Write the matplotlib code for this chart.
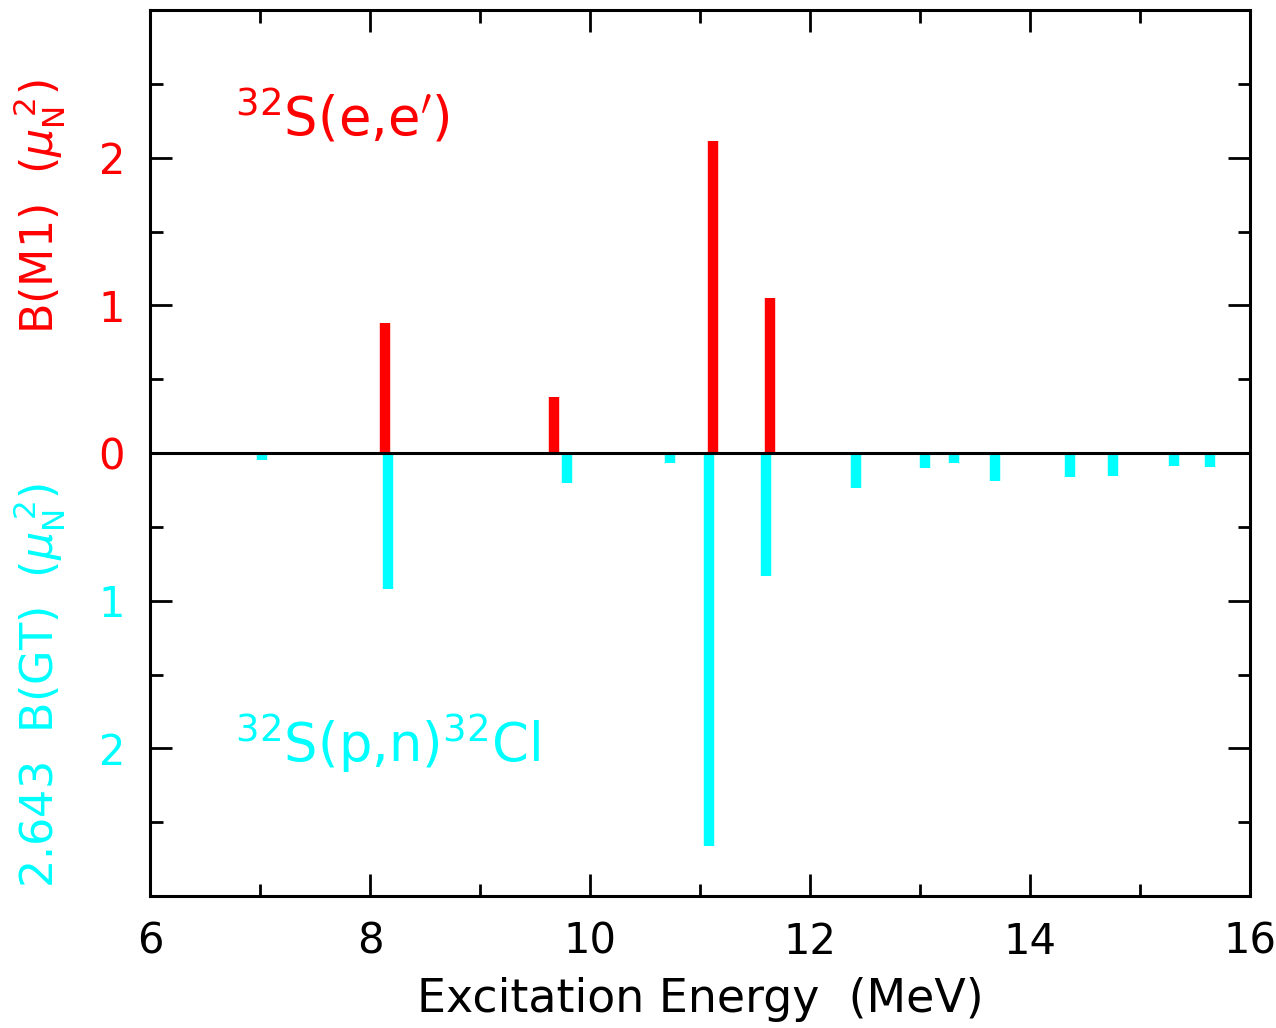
import matplotlib
matplotlib.use("Agg")
import matplotlib.pyplot as plt
from matplotlib.ticker import MultipleLocator, FuncFormatter

# 32S(e,e') M1 strengths (mu_N^2)
m1_energy = [7.00, 8.14, 9.67, 11.12, 11.64]
m1_bm1 = [0.01, 0.88, 0.38, 2.11, 1.05]

# 32S(p,n)32Cl GT strengths, scaled by 2.643 (drawn downward)
gt_energy = [7.02, 8.16, 9.79, 10.73, 11.08, 11.60, 12.42, 13.05,
             13.31, 13.68, 14.36, 14.75, 15.31, 15.64]
gt_bgt = [0.045, 0.92, 0.20, 0.07, 2.66, 0.83, 0.24, 0.10,
          0.065, 0.19, 0.16, 0.155, 0.09, 0.095]

RED = "#ff0000"
CYAN = "#00ffff"

plt.rcParams["font.family"] = "DejaVu Sans"
plt.rcParams["mathtext.fontset"] = "dejavusans"

fig = plt.figure(figsize=(12.76, 10.28), dpi=100)
ax = fig.add_axes([150/1276, 1 - 896/1028, 1100/1276, 886/1028])

ax.vlines(m1_energy, 0, m1_bm1, colors=RED, lw=7.5, zorder=3)
ax.vlines(gt_energy, 0, [-v for v in gt_bgt], colors=CYAN, lw=7.5, zorder=3)
ax.axhline(0, color="black", lw=2.2, zorder=4)

ax.set_xlim(6, 16)
ax.set_ylim(-3, 3)
ax.xaxis.set_major_locator(MultipleLocator(2))
ax.xaxis.set_minor_locator(MultipleLocator(1))
ax.yaxis.set_major_locator(MultipleLocator(1))
ax.yaxis.set_minor_locator(MultipleLocator(0.5))
ax.yaxis.set_major_formatter(FuncFormatter(lambda v, p: f"{abs(v):.0f}"))

for s in ax.spines.values():
    s.set_linewidth(2.2)
ax.tick_params(which="both", direction="in", top=True, right=True, width=2.0)
ax.tick_params(which="major", length=16, labelsize=30)
ax.tick_params(which="minor", length=9)
ax.tick_params(axis="x", pad=18)
ax.tick_params(axis="y", pad=18)

fig.canvas.draw()
for lab, v in zip(ax.get_yticklabels(), ax.get_yticks()):
    lab.set_color(RED if v >= 0 else CYAN)
    if v in (-3, 3):
        lab.set_visible(False)

ax.set_xlabel("Excitation Energy  (MeV)", fontsize=33, labelpad=10)

fig.text(40/1276, 1 - 207/1028, r"B(M1)  ($\mu_{\mathrm{N}}^{\ 2}$)", color=RED,
         fontsize=32, rotation=90, ha="center", va="center")
fig.text(40/1276, 1 - 685/1028, r"2.643  B(GT)  ($\mu_{\mathrm{N}}^{\ 2}$)", color=CYAN,
         fontsize=32, rotation=90, ha="center", va="center")

ax.text(6.77, 2.15, r"$^{32}$S(e,e$'$)", color=RED, fontsize=38,
        ha="left", va="baseline")
ax.text(6.77, -2.09, r"$^{32}$S(p,n)$^{32}$Cl", color=CYAN, fontsize=38,
        ha="left", va="baseline")

fig.savefig("out.png", dpi=100)
